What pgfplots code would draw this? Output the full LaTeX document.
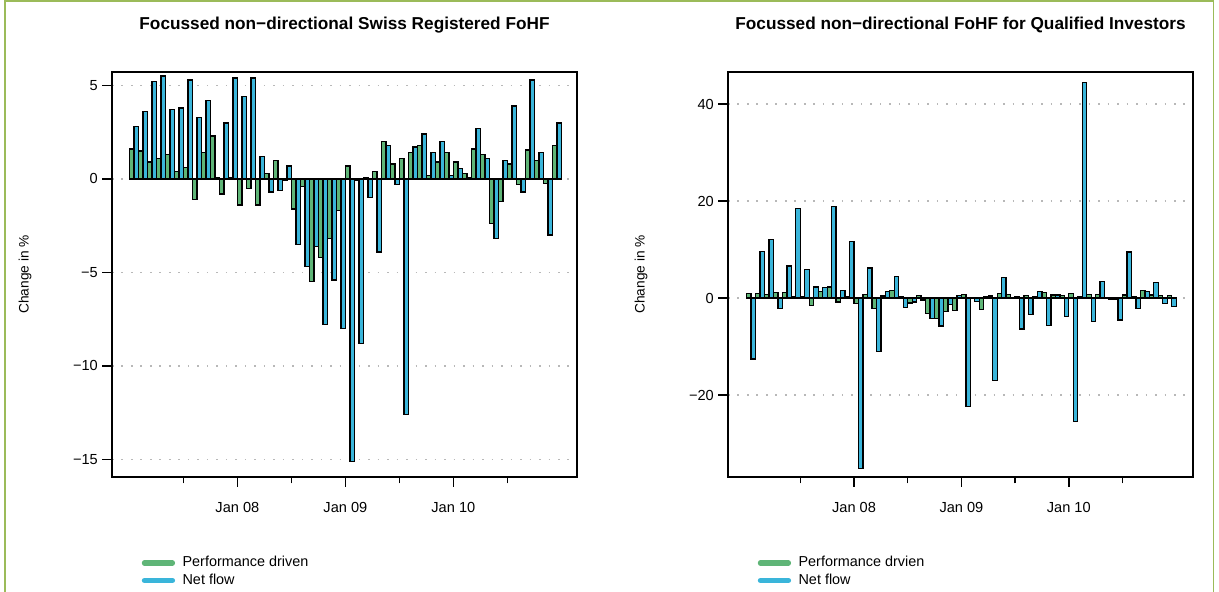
\documentclass[border=0pt]{standalone}
\usepackage{fontspec}
\setmainfont{Liberation Sans}
\usepackage{pgfplots}
\pgfplotsset{compat=1.18}
\usepackage{pgfplotstable}
\definecolor{perf}{HTML}{5FB577}
\definecolor{flow}{HTML}{3AB5DA}
\definecolor{slideframe}{HTML}{9BBB59}

% month index m: 0 = Jan 07 ... 47 = Dec 10; g = performance driven, b = net flow
\pgfplotstableread{
m g b
0 1.6 2.8
1 1.5 3.6
2 0.9 5.2
3 1.1 5.5
4 1.3 3.7
5 0.4 3.8
6 0.6 5.3
7 -1.1 3.3
8 1.4 4.2
9 2.3 0.05
10 -0.8 3.0
11 0.05 5.4
12 -1.4 4.4
13 -0.5 5.4
14 -1.4 1.2
15 0.3 -0.7
16 1.0 -0.6
17 -0.1 0.7
18 -1.6 -3.5
19 -0.4 -4.7
20 -5.5 -3.6
21 -4.2 -7.8
22 -3.2 -5.4
23 -1.7 -8.0
24 0.7 -15.1
25 -0.1 -8.8
26 0.05 -1.0
27 0.4 -3.9
28 2.0 1.8
29 0.8 -0.3
30 1.1 -12.6
31 1.4 1.7
32 1.8 2.4
33 0.2 1.4
34 0.9 2.0
35 1.4 0.2
36 0.9 0.55
37 0.3 0.05
38 1.6 2.7
39 1.3 1.1
40 -2.4 -3.2
41 -1.2 1.0
42 0.8 3.9
43 -0.3 -0.7
44 1.55 5.3
45 1.0 1.4
46 -0.25 -3.0
47 1.8 3.0
}\swiss

\pgfplotstableread{
m g b
0 1.0 -12.6
1 1.0 9.6
2 0.7 12.0
3 1.1 -2.1
4 1.2 6.6
5 0.3 18.5
6 0.3 5.9
7 -1.6 2.3
8 1.3 2.1
9 2.3 18.8
10 -0.8 1.6
11 0.2 11.7
12 -1.1 -35.1
13 0.75 6.2
14 -2.1 -11.0
15 0.4 1.4
16 1.6 4.4
17 0.3 -1.9
18 -1.0 -0.8
19 0.5 -0.4
20 -3.2 -4.2
21 -4.2 -5.8
22 -2.8 -1.4
23 -2.6 0.5
24 0.75 -22.3
25 0.1 -0.75
26 -2.3 0.3
27 0.4 -17.0
28 0.9 4.3
29 0.75 0.05
30 0.3 -6.4
31 0.5 -3.4
32 0.3 1.3
33 1.1 -5.7
34 0.6 0.6
35 0.5 -3.8
36 0.9 -25.4
37 0.3 44.5
38 0.75 -4.9
39 0.75 3.4
40 0.05 -0.3
41 -0.2 -4.5
42 0.6 9.5
43 0.2 -2.1
44 1.6 1.4
45 0.6 3.2
46 0.5 -1.1
47 0.5 -1.8
}\qualified

\pgfplotsset{
  fohf/.style={
    scale only axis, width=9.3cm, height=8.1cm,
    tick align=outside, tick pos=left,
    xtick={12,24,36}, xticklabels={Jan 08,Jan 09,Jan 10},
    minor xtick={6,18,30,42},
    major tick length=0.2cm, minor tick length=0.13cm,
    xticklabel shift=0.18cm, yticklabel shift=-0.04cm,
    axis line style={line width=0.9pt},
    every tick/.style={black, line width=0.9pt},
    ymajorgrids,
    major grid style={black!28, line width=0.9pt, dash pattern=on 0.9pt off 4.5pt},
    tick label style={font=\fontsize{8.3}{10}\selectfont},
    ylabel={Change in \%},
    ylabel style={font=\fontsize{7.8}{9}\selectfont, at={(axis description cs:-0.187,0.5)}, anchor=center},
    every axis title shift=0pt,
    title style={font=\fontsize{9.8}{11}\selectfont\bfseries, at={(axis description cs:0.5,1.116)}, anchor=center},
    legend style={draw=none, fill=none, anchor=north west,
      font=\fontsize{8.2}{9}\selectfont, row sep=-1.5pt, column sep=0.08cm},
    legend cell align=left,
  },
  legline/.style={line width=3pt, line cap=round,
    legend image code/.code={\draw[##1] (0cm,0cm) -- (0.56cm,0cm);}},
  gbar/.style={ybar, bar width=0.5, bar shift=0pt, fill=perf, draw=black, line width=0.75pt, forget plot},
  bbar/.style={ybar, bar width=0.5, bar shift=0pt, fill=flow, draw=black, line width=0.75pt, forget plot},
}

\begin{document}
\begin{tikzpicture}
  \useasboundingbox (0,0) rectangle (24.38cm,11.84cm);
  \draw[slideframe, line width=0.9pt] (0.1cm,0) -- (0.1cm,11.82cm) -- (24.27cm,11.82cm) -- (24.27cm,0);

  \begin{axis}[fohf, at={(2.24cm,2.3cm)}, anchor=south west,
    xmin=-1.93, xmax=49.74, ymin=-15.94, ymax=5.72,
    ytick={-15,-10,-5,0,5}, yticklabels={−15,−10,−5,0,5},
    title={Focussed non−directional Swiss Registered FoHF},
    legend style={at={(axis description cs:0.052,-0.178)}},
  ]
    \addplot[gbar] table[x expr=\thisrow{m}+0.25, y=g] {\swiss};
    \addplot[bbar] table[x expr=\thisrow{m}+0.75, y=b] {\swiss};
    \addlegendimage{perf, legline}
    \addlegendentry{Performance driven}
    \addlegendimage{flow, legline}
    \addlegendentry{Net flow}
  \end{axis}

  \begin{axis}[fohf, at={(14.56cm,2.3cm)}, anchor=south west,
    xmin=-2.08, xmax=49.88, ymin=-36.9, ymax=46.6,
    ytick={-20,0,20,40}, yticklabels={−20,0,20,40},
    title={Focussed non−directional FoHF for Qualified Investors},
    legend style={at={(axis description cs:0.052,-0.178)}},
  ]
    \addplot[gbar] table[x expr=\thisrow{m}+0.25, y=g] {\qualified};
    \addplot[bbar] table[x expr=\thisrow{m}+0.75, y=b] {\qualified};
    \addlegendimage{perf, legline}
    \addlegendentry{Performance drvien}
    \addlegendimage{flow, legline}
    \addlegendentry{Net flow}
  \end{axis}
\end{tikzpicture}
\end{document}
